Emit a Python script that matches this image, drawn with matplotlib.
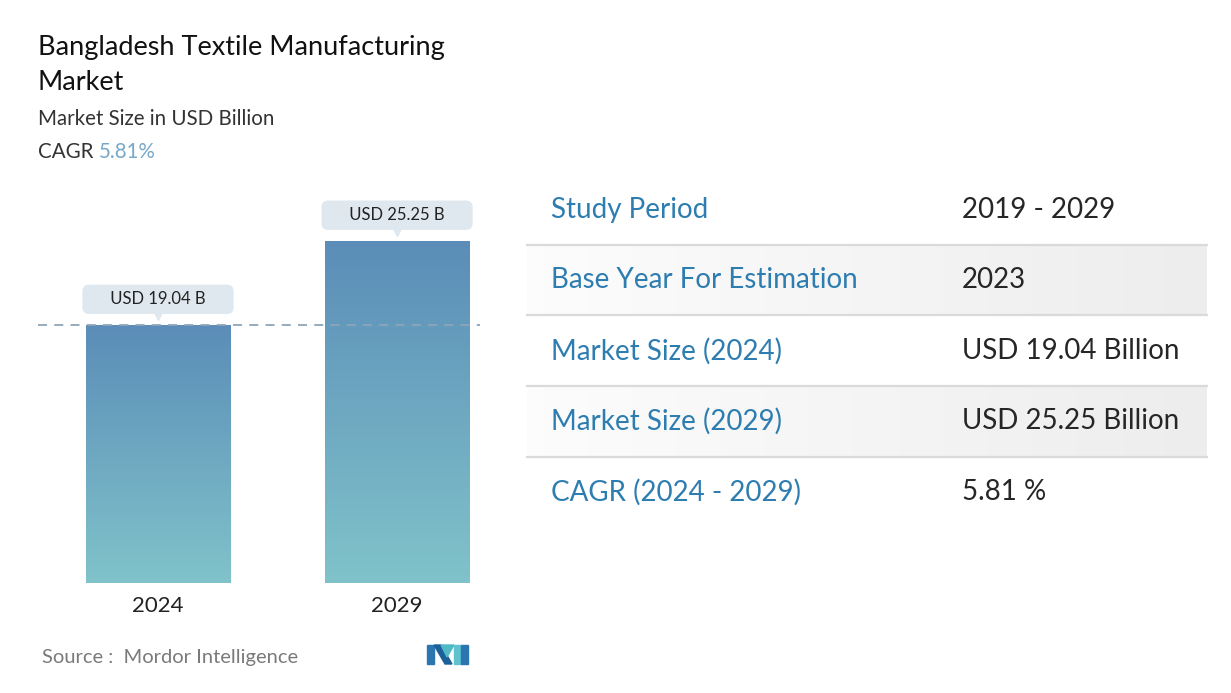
import numpy as np
import matplotlib
matplotlib.use("Agg")
import matplotlib.pyplot as plt
from matplotlib.patches import Polygon
import matplotlib.transforms as mtransforms

# ---- data ----
years = ["2024", "2029"]
values = [19.04, 25.25]
bar_labels = ["USD 19.04 B", "USD 25.25 B"]
title_lines = ["Bangladesh Textile Manufacturing", "Market"]
subtitle = "Market Size in USD Billion"
cagr_text = "5.81%"
table_keys = ["Study Period", "Base Year For Estimation", "Market Size (2024)",
              "Market Size (2029)", "CAGR (2024 - 2029)"]
table_vals = ["2019 - 2029", "2023", "USD 19.04 Billion", "USD 25.25 Billion", "5.81 %"]
source = "Source :  Mordor Intelligence"

plt.rcParams['font.family'] = ['Lato', 'DejaVu Sans']

W, H = 1231, 693
fig = plt.figure(figsize=(W / 100, H / 100), dpi=100)
fig.patch.set_facecolor("white")

# background overlay axes in pixel coords (for table layout)
bg = fig.add_axes([0, 0, 1, 1], zorder=0)
bg.set_xlim(0, W)
bg.set_ylim(H, 0)
bg.axis("off")

# ---- bar chart axes ----
ax_left, ax_right, ax_bottom, ax_top = 38, 480, 583, 200
ax = fig.add_axes([ax_left / W, 1 - ax_bottom / H, (ax_right - ax_left) / W, (ax_bottom - ax_top) / H], zorder=2)
ax.patch.set_alpha(0)
x = np.arange(len(years))
bw = 0.6025

top_c = np.array(matplotlib.colors.to_rgb("#5b8db8"))
bot_c = np.array(matplotlib.colors.to_rgb("#80c3ca"))
grad = np.linspace(0, 1, 256)[:, None]
img = top_c[None, None, :] * (1 - grad[..., None]) + bot_c[None, None, :] * grad[..., None]
img = np.repeat(img, 2, axis=1)

bars = ax.bar(x, values, width=bw, color="none", edgecolor="none")
for b, xi, v in zip(bars, x, values):
    im = ax.imshow(img, extent=(xi - bw / 2, xi + bw / 2, 0, v), aspect="auto", zorder=2)
    im.set_clip_path(b)
ax.set_xlim(-0.502, 1.347)
ax.set_ylim(0, 28.27)

# dashed reference line at first value
ax.axhline(values[0], color="#8ea6b8", lw=1.3, ls=(0, (5, 4)), zorder=3)

# value labels with pointer
for xi, v, lab in zip(x, values, bar_labels):
    ax.annotate("     " + lab + "     ", xy=(xi, v), xytext=(0, 18.5), textcoords="offset points",
                ha="center", va="center", fontsize=12, color="#222222", zorder=5,
                bbox=dict(boxstyle="round,pad=0.4,rounding_size=0.4", fc="#dfe8ee", ec="none"))
    tr = mtransforms.offset_copy(ax.transData, fig=fig, x=0, y=7, units="points")
    ax.plot([xi], [v], marker="v", ms=7, color="#dfe8ee", transform=tr, zorder=5, clip_on=False)

ax.set_xticks(x)
ax.set_xticklabels(years, fontsize=16, color="#222222")
ax.tick_params(axis="x", length=0, pad=9)
ax.set_yticks([])
for s in ax.spines.values():
    s.set_visible(False)

# ---- titles ----
fig.text(38 / W, 1 - 48 / H, title_lines[0], fontsize=19.5, color="#111111", va="center", ha="left")
fig.text(38 / W, 1 - 82 / H, title_lines[1], fontsize=19.5, color="#111111", va="center", ha="left")
fig.text(38 / W, 1 - 119 / H, subtitle, fontsize=14.8, color="#333333", va="center", ha="left")
t = fig.text(38 / W, 1 - 152 / H, "CAGR ", fontsize=14.8, color="#333333", va="center", ha="left")
fig.canvas.draw()
bb = t.get_window_extent()
fig.text(bb.x1 / W, 1 - 152 / H, cagr_text, fontsize=14.8, color="#78a8c8", va="center", ha="left")

# ---- table ----
row_y = [210, 280, 351, 421, 492]
sep_y = [245, 315, 386, 457]
tx0, tx1 = 527, 1207
shade = np.linspace(0, 1, 256)[None, :]
shade_img = np.ones((1, 256, 4))
shade_img[..., :3] = 0.93
shade_img[..., 3] = 0.15 + 0.85 * shade
for i in (1, 3):
    bg.imshow(shade_img, extent=(tx0, tx1, sep_y[i], sep_y[i - 1]), aspect="auto", zorder=0)
bg.set_xlim(0, W)
bg.set_ylim(H, 0)
for yy in sep_y:
    bg.plot([tx0, tx1], [yy, yy], color="#dadada", lw=1.6, zorder=1)
for yy, k, v in zip(row_y, table_keys, table_vals):
    bg.text(551, yy, k, fontsize=20, color="#2e7db0", va="center", ha="left")
    bg.text(962, yy, v, fontsize=20, color="#262626", va="center", ha="left")

# ---- source + logo ----
bg.text(42, 657, source, fontsize=14.5, color="#7a7a7a", va="center", ha="left")
logo = [
    ([(427, 664), (427, 645), (434, 645), (434, 664)], "#2b76b0"),
    ([(434, 645), (441, 645), (452, 664), (445, 664)], "#1c5f99"),
    ([(441, 645), (454, 645), (447, 657)], "#4fb9c6"),
    ([(454, 645), (461, 645), (461, 664), (454, 664)], "#5ec3cf"),
    ([(461, 645), (468, 645), (468, 664), (461, 664)], "#2b76b0"),
]
for pts, c in logo:
    bg.add_patch(Polygon(pts, closed=True, color=c, zorder=2))

fig.savefig("out.png", dpi=100, facecolor="white")
